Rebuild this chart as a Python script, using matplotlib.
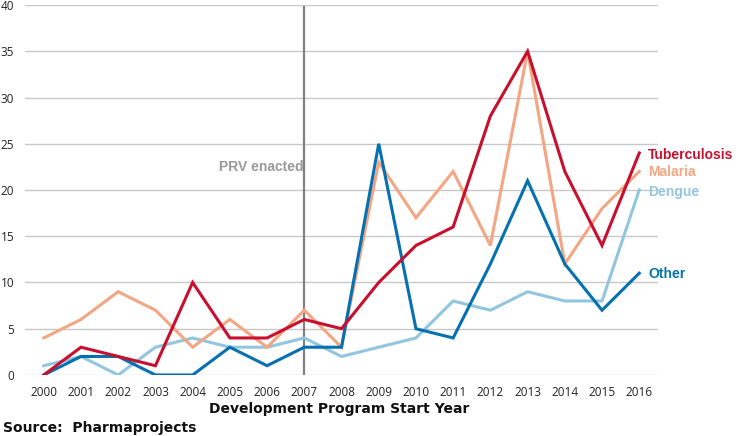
import numpy as np
import matplotlib
matplotlib.use('Agg')
import matplotlib.pyplot as plt

years = list(range(2000, 2017))
tuberculosis = [0, 3, 2, 1, 10, 4, 4, 6, 5, 10, 14, 16, 28, 35, 22, 14, 24]
malaria = [4, 6, 9, 7, 3, 6, 3, 7, 3, 23, 17, 22, 14, 35, 12, 18, 22]
dengue = [1, 2, 0, 3, 4, 3, 3, 4, 2, 3, 4, 8, 7, 9, 8, 8, 20]
other = [0, 2, 2, 0, 0, 3, 1, 3, 3, 25, 5, 4, 12, 21, 12, 7, 11]

series = [
    ('Dengue', dengue, '#92c5de'),
    ('Malaria', malaria, '#f4a582'),
    ('Other', other, '#0571b0'),
    ('Tuberculosis', tuberculosis, '#c8102e'),
]
label_y = {'Tuberculosis': 23.8, 'Malaria': 21.9, 'Dengue': 19.8, 'Other': 10.9}

plt.rcParams['font.family'] = ['Open Sans', 'DejaVu Sans']

fig = plt.figure(figsize=(7.4, 4.36), dpi=100)
ax = fig.add_axes([0.034, 0.14, 0.855, 0.8485])

ax.set_xlim(1999.5, 2016.5)
ax.set_ylim(0, 40)
ax.set_yticks(range(0, 41, 5))
ax.set_xticks(years)
ax.grid(axis='y', color='#c8c8c8', lw=1)
ax.set_axisbelow(True)
for s in ax.spines.values():
    s.set_visible(False)
ax.tick_params(length=0, labelsize=8.5, colors='#222222')
ax.tick_params(axis='y', pad=8)
ax.tick_params(axis='x', pad=8)

ax.axvline(2007, ymin=0, ymax=0.995, color='#808080', lw=1.6, zorder=1)
ax.text(2006.97, 22.5, 'PRV enacted', color='#999999', fontsize=10,
        fontweight='bold', family='Liberation Sans', ha='right', va='center')

for name, vals, col in series:
    ax.plot(years, vals, color=col, lw=2.2, zorder=3, solid_joinstyle='miter')
    ax.text(2016.24, label_y[name], name, color=col, fontsize=10,
            fontweight='bold', family='Liberation Sans', ha='left', va='center',
            clip_on=False)

fig.text(0.458, 0.062, 'Development Program Start Year', ha='center', va='center',
         fontsize=10, fontweight='bold', family='DejaVu Sans', color='#111111')
fig.text(0.004, 0.018, 'Source:  Pharmaprojects', ha='left', va='center',
         fontsize=10, fontweight='bold', family='DejaVu Sans', color='#111111')

fig.savefig('out.png', dpi=100)
